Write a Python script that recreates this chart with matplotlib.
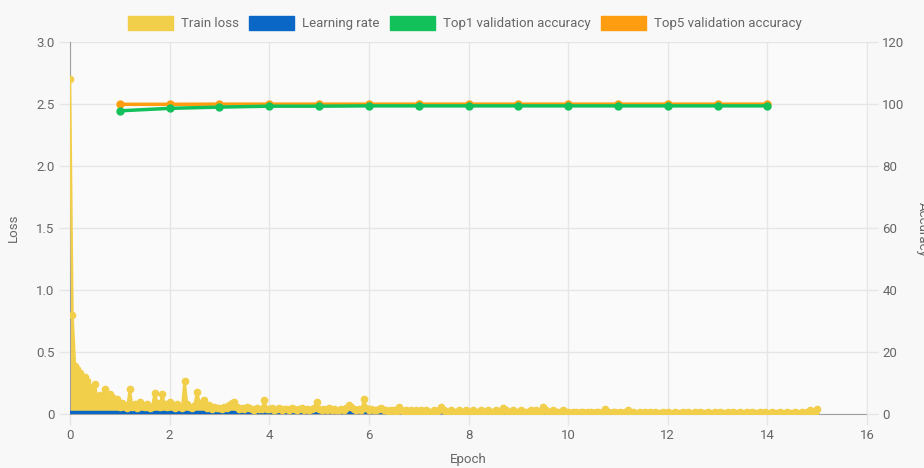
import numpy as np
import matplotlib
matplotlib.use("Agg")
import matplotlib.pyplot as plt
from matplotlib.patches import Patch

# ---------------- data ----------------
loss_step = 0.05  # epochs between train-loss samples
train_loss = [
    # epoch 0
    2.70, 0.80, 0.39, 0.36, 0.33, 0.26, 0.30, 0.27, 0.22, 0.18, 0.24, 0.12, 0.15, 0.10, 0.20, 0.08, 0.16, 0.14, 0.09, 0.12,
    # epoch 1
    0.06, 0.09, 0.07, 0.05, 0.20, 0.06, 0.08, 0.05, 0.10, 0.07, 0.06, 0.08, 0.05, 0.06, 0.17, 0.09, 0.06, 0.16, 0.08, 0.06,
    # epoch 2
    0.10, 0.07, 0.05, 0.08, 0.06, 0.05, 0.27, 0.08, 0.06, 0.05, 0.07, 0.18, 0.09, 0.07, 0.11, 0.05, 0.07, 0.04, 0.06, 0.05,
    # epoch 3
    0.05, 0.04, 0.06, 0.05, 0.07, 0.09, 0.10, 0.06, 0.04, 0.05, 0.04, 0.06, 0.05, 0.04, 0.03, 0.05, 0.04, 0.04, 0.11, 0.04,
    # epoch 4
    0.04, 0.05, 0.03, 0.04, 0.05, 0.03, 0.04, 0.04, 0.03, 0.05, 0.04, 0.03, 0.04, 0.05, 0.03, 0.04, 0.03, 0.04, 0.05, 0.10,
    # epoch 5
    0.04, 0.03, 0.04, 0.03, 0.05, 0.03, 0.04, 0.03, 0.03, 0.04, 0.03, 0.05, 0.07, 0.06, 0.04, 0.03, 0.04, 0.03, 0.12, 0.05,
    # epoch 6
    0.03, 0.04, 0.03, 0.03, 0.04, 0.05, 0.03, 0.03, 0.02, 0.03, 0.03, 0.02, 0.06, 0.03, 0.02, 0.03, 0.02, 0.03, 0.02, 0.03,
    # epoch 7
    0.02, 0.03, 0.02, 0.03, 0.02, 0.02, 0.03, 0.02, 0.03, 0.06, 0.03, 0.02, 0.02, 0.03, 0.02, 0.02, 0.03, 0.02, 0.02, 0.03,
    # epoch 8
    0.02, 0.02, 0.03, 0.02, 0.02, 0.03, 0.02, 0.02, 0.03, 0.02, 0.02, 0.03, 0.02, 0.02, 0.05, 0.03, 0.02, 0.02, 0.03, 0.02,
    # epoch 9
    0.02, 0.03, 0.02, 0.02, 0.02, 0.03, 0.02, 0.03, 0.02, 0.02, 0.06, 0.03, 0.02, 0.02, 0.03, 0.02, 0.02, 0.02, 0.03, 0.02,
    # epoch 10
    0.02, 0.01, 0.02, 0.02, 0.01, 0.02, 0.02, 0.01, 0.02, 0.02, 0.01, 0.02, 0.02, 0.01, 0.02, 0.04, 0.02, 0.01, 0.02, 0.02,
    # epoch 11
    0.01, 0.02, 0.01, 0.02, 0.03, 0.01, 0.02, 0.01, 0.01, 0.02, 0.01, 0.02, 0.01, 0.02, 0.01, 0.02, 0.01, 0.01, 0.02, 0.01,
    # epoch 12
    0.02, 0.01, 0.01, 0.02, 0.01, 0.01, 0.02, 0.01, 0.02, 0.01, 0.01, 0.02, 0.01, 0.02, 0.01, 0.01, 0.02, 0.01, 0.01, 0.02,
    # epoch 13
    0.01, 0.02, 0.01, 0.01, 0.02, 0.01, 0.02, 0.01, 0.01, 0.02, 0.01, 0.01, 0.02, 0.01, 0.02, 0.01, 0.01, 0.02, 0.01, 0.02,
    # epoch 14
    0.01, 0.01, 0.02, 0.01, 0.01, 0.02, 0.01, 0.01, 0.02, 0.01, 0.01, 0.02, 0.01, 0.01, 0.02, 0.01, 0.02, 0.03, 0.02, 0.01,
    # epoch 15
    0.04,
]
lr_epochs = [0, 1, 2, 3, 4, 5, 6, 7, 8, 9, 10, 11, 12, 13, 14, 15]
learning_rate = [0.02, 0.02, 0.02, 0.02, 0.02, 0.02, 0.02, 0.02, 0.02, 0.02, 0.02, 0.02, 0.02, 0.02, 0.02, 0.02]

val_epochs = [1, 2, 3, 4, 5, 6, 7, 8, 9, 10, 11, 12, 13, 14]
top1_acc = [97.8, 98.6, 99.0, 99.3, 99.3, 99.4, 99.4, 99.4, 99.4, 99.4, 99.4, 99.4, 99.4, 99.4]
top5_acc = [99.9, 99.9, 99.95, 99.95, 99.95, 99.95, 99.95, 99.95, 99.95, 99.95, 99.95, 99.95, 99.95, 99.95]

x_ticks = [0, 2, 4, 6, 8, 10, 12, 14, 16]
loss_ticks = [0, 0.5, 1.0, 1.5, 2.0, 2.5, 3.0]
loss_tick_labels = ["0", "0.5", "1.0", "1.5", "2.0", "2.5", "3.0"]
acc_ticks = [0, 20, 40, 60, 80, 100, 120]

# ---------------- style ----------------
YELLOW = "#f2cf4a"
BLUE = "#0b67c6"
GREEN = "#13c15b"
ORANGE = "#ff9d10"
TXT = "#666666"
GRID = "#e6e6e6"

plt.rcParams["font.family"] = ["Roboto", "DejaVu Sans"]

fig = plt.figure(figsize=(9.24, 4.68), dpi=100, facecolor="#f8f8f8")
ax = fig.add_axes([70 / 924, 54 / 468, 797 / 924, 372 / 468])
ax.set_facecolor("#fafafa")
ax2 = ax.twinx()

loss_x = np.arange(len(train_loss)) * loss_step

# train loss fill (fills go beneath all lines)
ax.fill_between(loss_x, 0, train_loss, color=YELLOW, lw=0, zorder=2)
# learning rate
ax.fill_between(lr_epochs, 0, learning_rate, color=BLUE, lw=0, zorder=3)
ax.plot(lr_epochs, learning_rate, color=BLUE, lw=2.5, zorder=3)
# train loss line + points
ax.plot(loss_x, train_loss, color=YELLOW, lw=1.8, zorder=4,
        marker="o", ms=4.5, mec=YELLOW, mfc=YELLOW)

ax.set_xlim(0, 16)
ax.set_ylim(0, 3.0)
ax.set_xticks(x_ticks)
ax.set_yticks(loss_ticks)
ax.set_yticklabels(loss_tick_labels)
ax.grid(True, color=GRID, lw=1, zorder=0)
ax.set_axisbelow(True)

# accuracy axis
ax2.plot(val_epochs, top5_acc, color=ORANGE, lw=2.5, marker="o", ms=5, zorder=5)
ax2.plot(val_epochs, top1_acc, color=GREEN, lw=2.5, marker="o", ms=5, zorder=6)
ax2.set_ylim(0, 120)
ax2.set_yticks(acc_ticks)

for a in (ax, ax2):
    for s in a.spines.values():
        s.set_visible(False)
    a.tick_params(colors=TXT, labelsize=9.5, length=8, width=1, color=GRID, pad=3)
ax.spines["left"].set_visible(True)
ax.spines["left"].set_color("#a0a0a0")
ax.spines["bottom"].set_visible(True)
ax.spines["bottom"].set_color("#a0a0a0")
ax2.spines["right"].set_visible(True)
ax2.spines["right"].set_color(GRID)

ax.set_xlabel("Epoch", color=TXT, fontsize=9.5, labelpad=8)
ax.set_ylabel("Loss", color=TXT, fontsize=9.5, labelpad=12)
fig.text(0.998, 0.51, "Accuracy", rotation=-90, color=TXT, fontsize=9.5,
         ha="center", va="center")

handles = [Patch(facecolor=YELLOW, edgecolor=YELLOW),
           Patch(facecolor=BLUE, edgecolor=BLUE),
           Patch(facecolor=GREEN, edgecolor=GREEN),
           Patch(facecolor=ORANGE, edgecolor=ORANGE)]
labels = ["Train loss", "Learning rate", "Top1 validation accuracy", "Top5 validation accuracy"]
leg = fig.legend(handles, labels, loc="center", bbox_to_anchor=(0.503, 0.951), ncol=4,
                 frameon=False, fontsize=9.5, handlelength=3.4, handleheight=1.3,
                 columnspacing=0.8, handletextpad=0.6)
for t in leg.get_texts():
    t.set_color(TXT)

fig.savefig("out.png", dpi=100, facecolor=fig.get_facecolor())
